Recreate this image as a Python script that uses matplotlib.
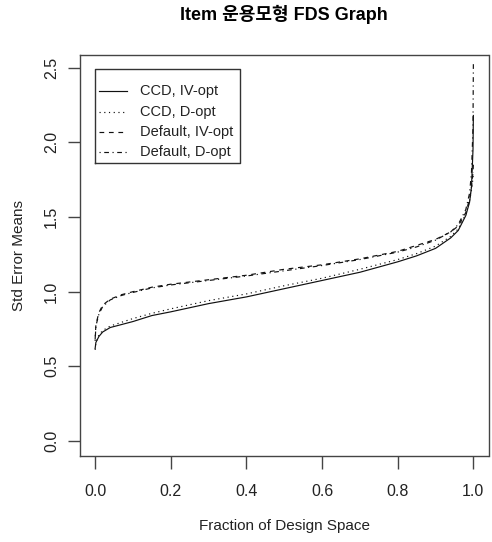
import matplotlib
matplotlib.use("Agg")
import matplotlib.pyplot as plt

plt.rcParams['font.family'] = ['Liberation Sans', 'Noto Sans CJK KR', 'DejaVu Sans']

# fraction of design space grid (shared by all curves)
frac = [0, 0.002, 0.01, 0.02, 0.04, 0.07, 0.1, 0.15, 0.2, 0.3, 0.4, 0.5,
        0.6, 0.7, 0.8, 0.85, 0.9, 0.94, 0.96, 0.98, 0.99, 0.995, 0.999, 1.0]

ccd_iv = [0.62, 0.66, 0.70, 0.73, 0.76, 0.78, 0.80, 0.84, 0.865, 0.92, 0.965, 1.02,
          1.075, 1.13, 1.20, 1.24, 1.29, 1.36, 1.41, 1.51, 1.60, 1.70, 1.95, 2.18]
ccd_d = [0.61, 0.66, 0.71, 0.74, 0.77, 0.795, 0.82, 0.855, 0.885, 0.94, 0.985, 1.04,
         1.09, 1.15, 1.215, 1.255, 1.305, 1.37, 1.42, 1.52, 1.61, 1.68, 1.76, 1.80]
def_iv = [0.68, 0.78, 0.86, 0.91, 0.95, 0.98, 1.00, 1.03, 1.05, 1.08, 1.11, 1.15,
          1.18, 1.22, 1.27, 1.31, 1.35, 1.40, 1.44, 1.53, 1.62, 1.70, 1.80, 1.85]
def_d = [0.67, 0.77, 0.85, 0.90, 0.945, 0.975, 0.995, 1.025, 1.045, 1.075, 1.105, 1.14,
         1.175, 1.215, 1.265, 1.30, 1.345, 1.40, 1.45, 1.55, 1.66, 1.80, 2.10, 2.53]

labels = ["CCD, IV-opt", "CCD, D-opt", "Default, IV-opt", "Default, D-opt"]
series = [ccd_iv, ccd_d, def_iv, def_d]
styles = ['-', (0, (1, 3)), (0, (4, 4)), (0, (1, 3, 4, 3))]

fig = plt.figure(figsize=(4.92, 5.42), dpi=100)
ax = fig.add_axes([80 / 492, 86 / 542, 408.5 / 492, 401 / 542])

for ys, ls in zip(series, styles):
    ax.plot(frac, ys, color='#111111', lw=0.85, linestyle=ls)

ax.set_xlim(-0.04, 1.04)
ax.set_ylim(-0.1005, 2.585)
ax.set_xticks([0, 0.2, 0.4, 0.6, 0.8, 1.0])
ax.set_xticklabels(["0.0", "0.2", "0.4", "0.6", "0.8", "1.0"])
ax.set_yticks([0, 0.5, 1.0, 1.5, 2.0, 2.5])
ax.set_yticklabels(["0.0", "0.5", "1.0", "1.5", "2.0", "2.5"], rotation=90, va='center')

for s in ax.spines.values():
    s.set_color('#444444')
    s.set_linewidth(1)
ax.tick_params(axis='both', length=9, width=1, color='#444444', labelsize=11.5, labelcolor='#222222')
ax.tick_params(axis='x', pad=11.5)
ax.tick_params(axis='y', pad=6)

ax.set_xlabel("Fraction of Design Space", fontsize=11, color='#222222', labelpad=14)
ax.set_ylabel("Std Error Means", fontsize=11, color='#222222', labelpad=13)
fig.text(284 / 492, 1 - 14 / 542, "Item 운용모형 FDS Graph", ha='center', va='center',
         fontsize=13, fontweight='bold')

# legend box, drawn the way R's legend() lays it out
bx0, bx1, by0, by1 = 0.0, 0.382, 1.862, 2.49
ax.plot([bx0, bx1, bx1, bx0, bx0], [by0, by0, by1, by1, by0], color='#333333', lw=1)
row_y = [2.346, 2.204, 2.07, 1.936]
for yy, ls, lab in zip(row_y, styles, labels):
    ax.plot([0.0098, 0.0837], [yy, yy], color='#111111', lw=0.85, linestyle=ls)
    ax.text(0.118, yy, lab, fontsize=10.5, va='center', ha='left', color='#222222')

fig.savefig("out.png", dpi=100)
